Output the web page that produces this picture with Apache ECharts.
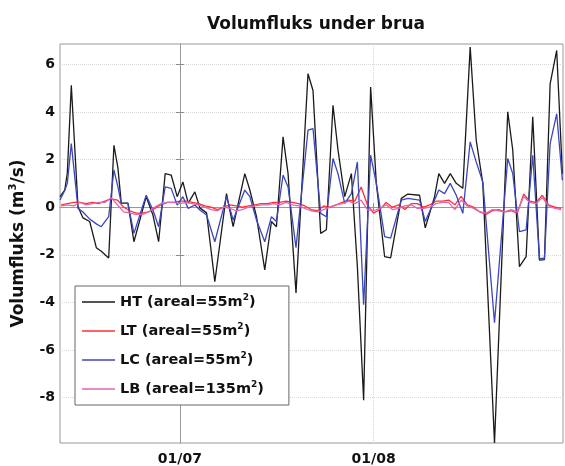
<!DOCTYPE html>
<html>
<head>
<meta charset="utf-8">
<title>Volumfluks under brua</title>
<script src="https://cdn.jsdelivr.net/npm/echarts@6/dist/echarts.min.js"></script>
<style>
  html, body { margin: 0; padding: 0; background: #fff; }
  #main { width: 565px; height: 466px; }
</style>
</head>
<body>
<div id="main"></div>
<script>
// x values are days counted from 01/07
var flowDays = [-19.18, -18.42, -18.01, -17.37, -16.30, -15.50, -14.43, -13.37, -12.58, -11.39,
  -10.55, -9.91, -9.38, -8.31, -7.35, -5.39, -4.31, -3.40, -2.35, -1.39,
  -0.43, 0.48, 1.33, 2.40, 3.20, 4.27, 5.59, 7.46, 8.52, 10.39,
  11.19, 12.26, 13.58, 14.65, 15.45, 16.51, 17.31, 18.58, 20.50, 21.30,
  22.53, 23.44, 24.50, 25.30, 26.37, 27.44, 28.40, 29.40, 30.52, 31.43,
  32.76, 33.72, 35.43, 36.48, 38.35, 39.26, 40.75, 41.43, 42.35, 43.26,
  44.22, 45.27, 46.45, 47.41, 48.47, 50.34, 52.46, 53.26, 54.33, 55.40,
  56.46, 57.53, 58.33, 59.24, 60.29, 61.20];

var htValues = [0.44, 0.72, 1.43, 5.12, 0.02, -0.45, -0.6, -1.7, -1.85, -2.13,
  2.6, 1.64, 0.17, 0.17, -1.45, 0.44, -0.33, -1.45, 1.41, 1.35,
  0.44, 1.06, 0.17, 0.64, -0.03, -0.24, -3.13, 0.57, -0.82, 1.41,
  0.72, -0.4, -2.63, -0.6, -0.82, 2.95, 1.41, -3.6, 5.6, 4.9,
  -1.1, -0.95, 4.28, 2.4, 0.44, 1.41, -2.5, -8.1, 5.04, 1.0,
  -2.08, -2.13, 0.37, 0.55, 0.5, -0.87, 0.44, 1.41, 1.0, 1.41,
  1.0, 0.79, 6.72, 2.82, 1.0, -9.9, 4.0, 2.4, -2.5, -2.08,
  3.79, -2.22, -2.2, 5.18, 6.58, 1.4];

var lcValues = [0.3, 0.7, 1.0, 2.67, -0.05, -0.2, -0.5, -0.7, -0.82, -0.4,
  1.56, 0.85, 0.16, 0.16, -1.1, 0.5, -0.12, -0.82, 0.85, 0.79,
  0.09, 0.44, -0.05, 0.09, -0.12, -0.33, -1.45, 0.44, -0.54, 0.72,
  0.44, -0.54, -1.45, -0.4, -0.6, 1.35, 0.85, -1.7, 3.23, 3.3,
  -0.26, -0.4, 2.04, 1.41, 0.16, 0.57, 1.9, -4.1, 2.18, 1.0,
  -1.24, -1.3, 0.3, 0.37, 0.3, -0.6, 0.3, 0.72, 0.57, 1.0,
  0.5, -0.26, 2.74, 1.9, 1.06, -4.85, 2.04, 1.41, -1.03, -0.95,
  2.18, -2.15, -2.15, 2.67, 3.92, 1.13];

var smallDays = [-19, -18, -17, -16, -15, -14, -13, -12, -11, -10,
  -9, -8, -7, -6, -5, -4, -3, -2, -1, 0,
  1, 2, 3, 4, 5, 6, 7, 8, 9, 10,
  11, 12, 13, 14, 15, 16, 17, 18, 19, 20,
  21, 22, 23, 24, 25, 26, 27, 28, 29, 30,
  31, 32, 33, 34, 35, 36, 37, 38, 39, 40,
  41, 42, 43, 44, 45, 46, 47, 48, 49, 50,
  51, 52, 53, 54, 55, 56, 57, 58, 59, 60, 61];

var ltValues = [0.1, 0.15, 0.2, 0.2, 0.15, 0.2, 0.15, 0.25, 0.35, 0.3,
  0.0, -0.15, -0.25, -0.25, -0.2, -0.05, 0.1, 0.2, 0.2, 0.25,
  0.25, 0.2, 0.15, 0.05, 0.0, -0.1, 0.0, 0.1, 0.05, 0.0,
  0.05, 0.1, 0.15, 0.15, 0.2, 0.2, 0.25, 0.2, 0.15, 0.05,
  -0.1, -0.15, 0.05, 0.0, 0.1, 0.2, 0.3, 0.25, 0.85, 0.1,
  -0.25, -0.1, 0.2, 0.0, 0.1, -0.1, 0.15, 0.15, 0.0, 0.1,
  0.25, 0.25, 0.3, 0.1, 0.45, 0.1, 0.0, -0.2, -0.3, -0.15,
  -0.1, -0.2, -0.15, -0.25, 0.55, 0.25, 0.2, 0.5, 0.1, 0.0, -0.05];

var lbValues = [0.05, 0.1, 0.05, 0.2, 0.1, 0.15, 0.2, 0.2, 0.4, 0.1,
  -0.2, -0.25, -0.3, -0.3, -0.2, 0.0, 0.15, 0.2, 0.2, 0.15,
  0.2, 0.15, 0.1, 0.0, -0.1, -0.15, 0.0, -0.05, -0.15, -0.1,
  0.0, 0.05, 0.1, 0.1, 0.15, 0.1, 0.2, 0.1, 0.05, -0.05,
  -0.15, -0.2, -0.1, 0.0, 0.1, 0.15, 0.25, 0.15, 0.3, -0.1,
  -0.15, -0.05, 0.1, -0.1, -0.05, 0.05, 0.1, -0.05, -0.05, 0.0,
  0.15, 0.2, 0.2, -0.1, 0.3, 0.05, -0.05, -0.2, -0.25, -0.1,
  -0.15, -0.2, -0.1, -0.2, 0.45, 0.2, 0.15, 0.4, 0.05, -0.05, -0.1];

var xTickDays = [0, 31];
var xTickLabels = ['01/07', '01/08'];
var yTicks = [-8, -6, -4, -2, 0, 2, 4, 6];

var seriesNames = ['HT', 'LT', 'LC', 'LB'];
var legendLabels = ['HT (areal=55m{sup|2})', 'LT (areal=55m{sup|2})', 'LC (areal=55m{sup|2})', 'LB (areal=135m{sup|2})'];
var seriesColors = ['#1a1a1a', '#ff3030', '#3a46c0', '#e066b0'];

var FONT = 'DejaVu Sans';

function pairs(xs, ys) {
  var out = [];
  for (var i = 0; i < xs.length; i++) {
    out.push([xs[i], ys[i]]);
  }
  return out;
}

var seriesData = [
  pairs(flowDays, htValues),
  pairs(smallDays, ltValues),
  pairs(flowDays, lcValues),
  pairs(smallDays, lbValues)
];

var chart = echarts.init(document.getElementById('main'), null, { renderer: 'canvas' });

var xMin = -19.18, xMax = 61.3;
var yMin = -9.9, yMax = 6.85;

var series = [];
for (var i = 0; i < seriesNames.length; i++) {
  series.push({
    name: seriesNames[i],
    type: 'line',
    data: seriesData[i],
    symbol: 'none',
    showSymbol: false,
    lineStyle: { color: seriesColors[i], width: 1.3 },
    itemStyle: { color: seriesColors[i] },
    xAxisIndex: 0,
    yAxisIndex: 0
  });
}

// legend entries: plain line samples, no symbol
var legendData = [];
for (var j = 0; j < seriesNames.length; j++) {
  legendData.push({ name: seriesNames[j], icon: 'rect' });
}

var option = {
  backgroundColor: '#ffffff',
  animation: false,
  title: {
    text: 'Volumfluks under brua',
    left: 311,
    top: 11,
    textAlign: 'center',
    textStyle: { fontFamily: FONT, fontWeight: 'bold', fontSize: 17, color: '#111' }
  },
  grid: {
    left: 60, right: 2, top: 44, bottom: 23,
    show: true, borderColor: '#999', borderWidth: 1, backgroundColor: '#fff'
  },
  legend: {
    orient: 'vertical',
    left: 75,
    top: 286,
    padding: [7, 25, 7, 7],
    itemWidth: 33,
    itemHeight: 1.5,
    itemGap: 11,
    backgroundColor: '#fff',
    borderColor: '#666',
    borderWidth: 1,
    data: legendData,
    formatter: function (name) {
      return legendLabels[seriesNames.indexOf(name)];
    },
    textStyle: {
      fontFamily: FONT, fontWeight: 'bold', fontSize: 14.5, color: '#111', lineHeight: 18,
      rich: {
        sup: { fontFamily: FONT, fontWeight: 'bold', fontSize: 9, color: '#111', lineHeight: 9, verticalAlign: 'top' }
      }
    }
  },
  xAxis: [{
    type: 'value',
    min: xMin,
    max: xMax,
    axisLine: { show: true, lineStyle: { color: '#999' } },
    axisTick: { show: true, inside: true, length: 4, customValues: xTickDays, lineStyle: { color: '#888' } },
    axisLabel: {
      customValues: xTickDays,
      margin: 9,
      fontFamily: FONT, fontWeight: 'bold', fontSize: 14, color: '#111',
      formatter: function (v) {
        var k = xTickDays.indexOf(v);
        return k >= 0 ? xTickLabels[k] : '';
      }
    },
    splitLine: { show: true, lineStyle: { color: '#d8d8d8', type: 'dotted', width: 1 } }
  }, {
    type: 'value',
    position: 'top',
    min: xMin,
    max: xMax,
    axisLine: { show: false },
    axisTick: { show: true, inside: true, length: 4, customValues: xTickDays, lineStyle: { color: '#888' } },
    axisLabel: { show: false },
    splitLine: { show: false }
  }],
  yAxis: [{
    type: 'value',
    min: yMin,
    max: yMax,
    name: 'Volumfluks (m{sup|3}/s)',
    nameLocation: 'middle',
    nameGap: 23,
    nameTextStyle: {
      fontFamily: FONT, fontWeight: 'bold', fontSize: 17, color: '#111', lineHeight: 20,
      rich: {
        sup: { fontFamily: FONT, fontWeight: 'bold', fontSize: 10, color: '#111', lineHeight: 10, verticalAlign: 'top' }
      }
    },
    axisLine: { show: true, lineStyle: { color: '#999' } },
    axisTick: { show: true, inside: true, length: 4, customValues: yTicks, lineStyle: { color: '#888' } },
    axisLabel: {
      customValues: yTicks,
      margin: 5,
      fontFamily: FONT, fontWeight: 'bold', fontSize: 14, color: '#111'
    },
    splitLine: { show: true, lineStyle: { color: '#d8d8d8', type: 'dotted', width: 1 } }
  }, {
    type: 'value',
    position: 'right',
    min: yMin,
    max: yMax,
    axisLine: { show: false },
    axisTick: { show: true, inside: true, length: 4, customValues: yTicks, lineStyle: { color: '#888' } },
    axisLabel: { show: false },
    splitLine: { show: false }
  }],
  series: series
};

chart.setOption(option);
</script>
</body>
</html>
